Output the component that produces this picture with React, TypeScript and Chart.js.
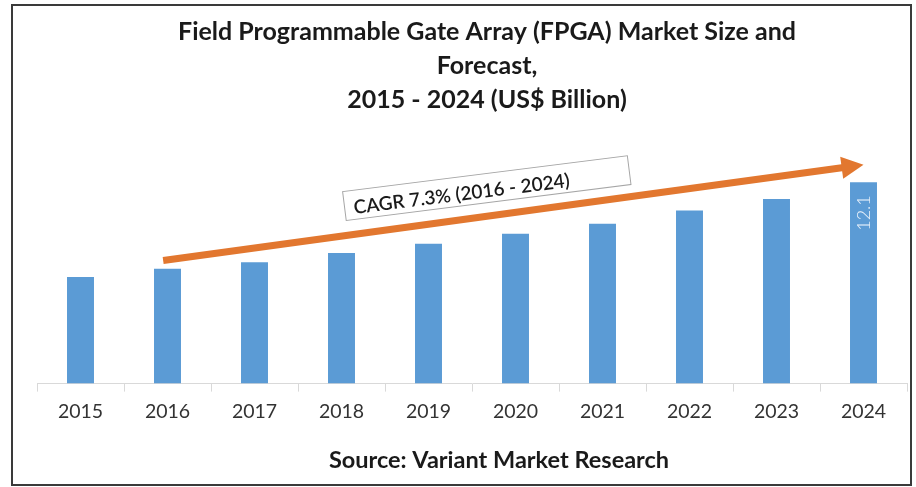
import React, { useEffect, useRef } from "react";
import { Chart, registerables } from "chart.js";

Chart.register(...registerables);

const categories = ["2015", "2016", "2017", "2018", "2019", "2020", "2021", "2022", "2023", "2024"];
const marketSize = [6.4, 6.9, 7.3, 7.85, 8.4, 9.0, 9.6, 10.4, 11.1, 12.1];
const labeledYears = ["2024"];
const titleLines = [
  "Field Programmable Gate Array (FPGA) Market Size and",
  "Forecast,",
  "2015 - 2024 (US$ Billion)",
];
const sourceText = "Source: Variant Market Research";
const cagrText = "CAGR 7.3% (2016 - 2024)";
// annotation anchors in data space (category index, value)
const arrowFrom = { x: 0.95, y: 7.4 };
const arrowTo = { x: 9.0, y: 13.15 };
const cagrBoxCenter = { x: 4.67, y: 11.75 };

const FONT = "Lato, 'Open Sans', 'DejaVu Sans', sans-serif";
const BAR_COLOR = "#5B9BD5";
const ARROW_COLOR = "#E2772F";

const decorPlugin = {
  id: "decor",
  afterDatasetsDraw(chart: any) {
    const { ctx, scales } = chart;
    const xs = scales.x;
    const ys = scales.y;
    // value label inside bar
    const meta = chart.getDatasetMeta(0);
    meta.data.forEach((bar: any, i: number) => {
      if (!labeledYears.includes(categories[i])) return;
      ctx.save();
      ctx.translate(bar.x, bar.y + 13);
      ctx.rotate(-Math.PI / 2);
      ctx.fillStyle = "#EAF2FB";
      ctx.font = `300 18px ${FONT}`;
      ctx.textAlign = "right";
      ctx.textBaseline = "middle";
      ctx.fillText(String(marketSize[i]), 0, 1);
      ctx.restore();
    });
    // arrow
    const x1 = xs.getPixelForValue(arrowFrom.x);
    const y1 = ys.getPixelForValue(arrowFrom.y);
    const x2 = xs.getPixelForValue(arrowTo.x);
    const y2 = ys.getPixelForValue(arrowTo.y);
    const ang = Math.atan2(y2 - y1, x2 - x1);
    const headLen = 22;
    const headHalf = 11;
    const bx = x2 - headLen * Math.cos(ang);
    const by = y2 - headLen * Math.sin(ang);
    ctx.save();
    ctx.strokeStyle = ARROW_COLOR;
    ctx.fillStyle = ARROW_COLOR;
    ctx.lineWidth = 7;
    ctx.lineCap = "butt";
    ctx.beginPath();
    ctx.moveTo(x1, y1);
    ctx.lineTo(bx + 2 * Math.cos(ang), by + 2 * Math.sin(ang));
    ctx.stroke();
    ctx.beginPath();
    ctx.moveTo(x2, y2);
    ctx.lineTo(bx + headHalf * Math.sin(ang), by - headHalf * Math.cos(ang));
    ctx.lineTo(bx - headHalf * Math.sin(ang), by + headHalf * Math.cos(ang));
    ctx.closePath();
    ctx.fill();
    ctx.restore();
    // CAGR box
    const cx = xs.getPixelForValue(cagrBoxCenter.x);
    const cy = ys.getPixelForValue(cagrBoxCenter.y);
    const w = 287;
    const h = 29;
    ctx.save();
    ctx.translate(cx, cy);
    ctx.rotate((-7.2 * Math.PI) / 180);
    ctx.fillStyle = "#FFFFFF";
    ctx.fillRect(-w / 2, -h / 2, w, h);
    ctx.strokeStyle = "#A6A6A6";
    ctx.lineWidth = 1;
    ctx.strokeRect(-w / 2, -h / 2, w, h);
    ctx.fillStyle = "#1A1A1A";
    ctx.font = `600 19px ${FONT}`;
    ctx.textAlign = "left";
    ctx.textBaseline = "middle";
    ctx.fillText(cagrText, -w / 2 + 9, 3);
    ctx.restore();
  },
  afterDraw(chart: any) {
    const { ctx } = chart;
    ctx.save();
    ctx.fillStyle = "#1A1A1A";
    ctx.textAlign = "center";
    ctx.textBaseline = "middle";
    ctx.font = `bold 25px ${FONT}`;
    const titleY = [32, 66, 100];
    titleLines.forEach((t, i) => ctx.fillText(t, 487, titleY[i]));
    ctx.font = `bold 23.5px ${FONT}`;
    ctx.fillText(sourceText, 499, 460);
    // frame
    ctx.strokeStyle = "#3A3A3A";
    ctx.lineWidth = 2;
    ctx.strokeRect(12, 5, 899, 480);
    ctx.restore();
  },
};

export default function App() {
  const ref = useRef<HTMLCanvasElement>(null);
  useEffect(() => {
    if (!ref.current) return;
    const chart = new Chart(ref.current, {
      type: "bar",
      data: {
        labels: categories,
        datasets: [
          {
            data: marketSize,
            backgroundColor: BAR_COLOR,
            barPercentage: 0.31,
            categoryPercentage: 1,
          },
        ],
      },
      options: {
        responsive: false,
        animation: false,
        layout: { padding: { top: 134, left: 37, right: 9, bottom: 56 } },
        plugins: { legend: { display: false }, tooltip: { enabled: false }, title: { display: false } },
        scales: {
          x: {
            grid: { display: true, drawOnChartArea: false, tickLength: 8, color: "#D9D9D9", offset: true },
            border: { color: "#D9D9D9" },
            ticks: { color: "#333333", font: { family: FONT, size: 19.5 }, padding: 8 },
          },
          y: { display: false, min: 0, max: 15 },
        },
      },
      plugins: [decorPlugin],
    });
    return () => chart.destroy();
  }, []);
  return (
    <div style={{ position: "absolute", left: 0, top: 0, width: 916, height: 487, background: "#fff" }}>
      <canvas ref={ref} width={916} height={487} style={{ width: 916, height: 487 }} />
    </div>
  );
}
